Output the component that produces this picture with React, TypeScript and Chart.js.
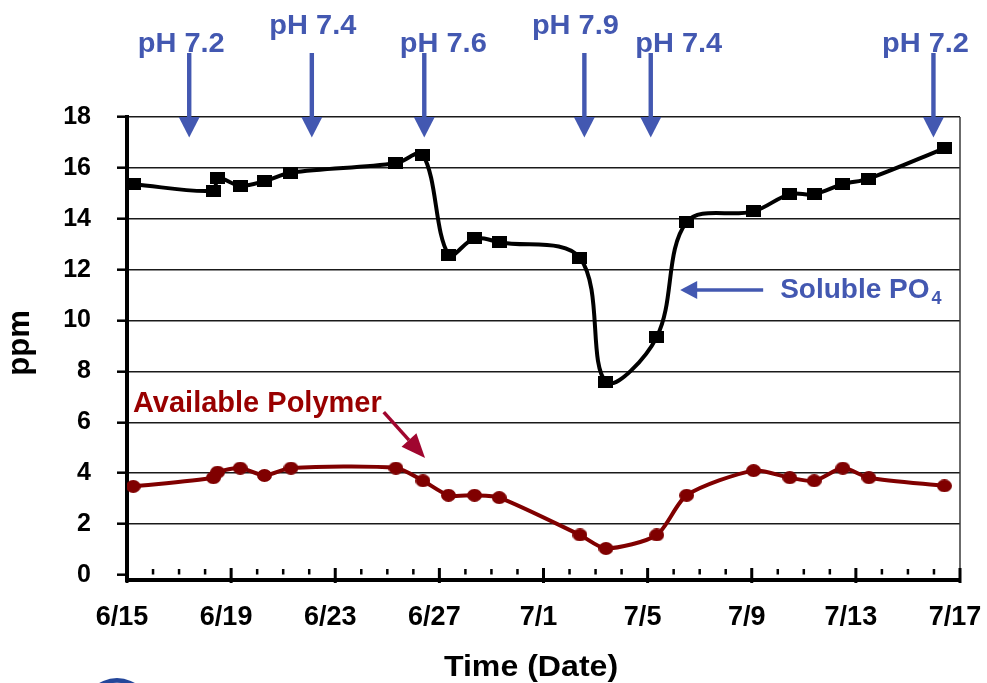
import React, { useEffect, useRef } from "react";
import { Chart, registerables } from "chart.js";

Chart.register(...registerables);

const FONT = '"Liberation Sans", Arial, Helvetica, sans-serif';

// Sampling times, in days after 6/15
const sampleDays = [
  0.24, 3.32, 3.48, 4.35, 5.28, 6.3, 10.33, 11.37, 12.35, 13.35, 14.3,
  17.4, 18.4, 20.35, 21.5, 24.07, 25.46, 26.4, 27.5, 28.5, 31.4,
];

// Soluble PO4, ppm
const solublePO4 = [
  15.36, 15.1, 15.6, 15.3, 15.48, 15.81, 16.18, 16.52, 12.59, 13.23, 13.08,
  12.46, 7.59, 9.35, 13.87, 14.29, 14.97, 14.97, 15.36, 15.58, 16.77,
];

// Available polymer, ppm
const availablePolymer = [
  3.48, 3.82, 4.04, 4.2, 3.91, 4.2, 4.2, 3.7, 3.13, 3.13, 3.04,
  1.57, 1.04, 1.57, 3.13, 4.1, 3.82, 3.7, 4.2, 3.82, 3.5,
];

// Date labels for every fourth day
const dateLabels = ["6/15", "6/19", "6/23", "6/27", "7/1", "7/5", "7/9", "7/13", "7/17"];

// ppm axis ticks
const yTickValues = [0, 2, 4, 6, 8, 10, 12, 14, 16, 18];

// pH set-point changes (days after 6/15)
const phDays = [2.39, 7.1, 11.42, 17.57, 20.12, 30.98];
const phLabels = ["pH 7.2", "pH 7.4", "pH 7.6", "pH 7.9", "pH 7.4", "pH 7.2"];

// Callout anchors in data space
const po4Callout = { day: 21.25, value: 11.2 };
const polymerCallout = { textDay: 0.23, textValue: 6.4, tipDay: 11.45, tipValue: 4.6 };

// Label placement for the pH captions (horizontal shift, raised row or not)
const phLabelLayout = [
  { dx: -8, high: false },
  { dx: 1, high: true },
  { dx: 19, high: false },
  { dx: -9, high: true },
  { dx: 28, high: false },
  { dx: -8, high: false },
];

const PH_BLUE = "#4358b1";
const MAROON = "#800000";
const POLY_TEXT = "#990000";
const POLY_ARROW = "#a0062f";

function stretchText(ctx: CanvasRenderingContext2D, text: string, x: number, y: number, sx: number) {
  ctx.save();
  ctx.translate(x, y);
  ctx.scale(sx, 1);
  ctx.fillText(text, 0, 0);
  ctx.restore();
}

function makeMarker(w: number, h: number, color: string, round: boolean) {
  const c = document.createElement("canvas");
  c.width = w;
  c.height = h;
  const g = c.getContext("2d")!;
  g.fillStyle = color;
  if (round) {
    g.beginPath();
    g.ellipse(w / 2, h / 2, w / 2, h / 2, 0, 0, Math.PI * 2);
    g.fill();
  } else {
    g.fillRect(0, 0, w, h);
  }
  return c;
}

const overlay = {
  id: "overlay",
  afterDraw(chart: any) {
    const { ctx, chartArea: a } = chart;
    const x = chart.scales.x;
    const y = chart.scales.y;
    ctx.save();

    // right frame line
    ctx.strokeStyle = "#3a3a3a";
    ctx.lineWidth = 1.5;
    ctx.beginPath();
    ctx.moveTo(a.right, a.top);
    ctx.lineTo(a.right, a.bottom);
    ctx.stroke();

    // daily tick marks on the time axis
    ctx.fillStyle = "#000";
    for (let d = x.min; d <= x.max; d++) {
      const px = x.getPixelForValue(d);
      if (d % 4 === 0) ctx.fillRect(px - 1.5, a.bottom - 12, 3, 15);
      else ctx.fillRect(px - 1.25, a.bottom - 11, 2.5, 5.5);
    }

    // pH change arrows
    const headBase = y.getPixelForValue(18);
    const shaftTop = 53;
    ctx.fillStyle = PH_BLUE;
    phDays.forEach((d) => {
      const ax = x.getPixelForValue(d);
      ctx.fillRect(ax - 2.2, shaftTop, 4.4, headBase - shaftTop + 1);
      ctx.beginPath();
      ctx.moveTo(ax - 10.5, headBase);
      ctx.lineTo(ax + 10.5, headBase);
      ctx.lineTo(ax, headBase + 20.5);
      ctx.closePath();
      ctx.fill();
    });
    ctx.font = `bold 28px ${FONT}`;
    ctx.textAlign = "center";
    ctx.textBaseline = "alphabetic";
    phLabels.forEach((t, i) => {
      const ax = x.getPixelForValue(phDays[i]);
      const lay = phLabelLayout[i];
      stretchText(ctx, t, ax + lay.dx, lay.high ? 33.5 : 52, 1.035);
    });

    // Soluble PO4 callout
    const tx = x.getPixelForValue(po4Callout.day);
    const ty = y.getPixelForValue(po4Callout.value);
    ctx.strokeStyle = PH_BLUE;
    ctx.lineWidth = 3.5;
    ctx.beginPath();
    ctx.moveTo(tx + 12, ty);
    ctx.lineTo(tx + 83, ty);
    ctx.stroke();
    ctx.beginPath();
    ctx.moveTo(tx, ty);
    ctx.lineTo(tx + 17, ty - 9);
    ctx.lineTo(tx + 17, ty + 9);
    ctx.closePath();
    ctx.fill();
    ctx.textAlign = "left";
    ctx.font = `bold 28px ${FONT}`;
    const main = "Soluble PO";
    ctx.fillText(main, tx + 100, ty + 8);
    const mw = ctx.measureText(main).width;
    ctx.font = `bold 18px ${FONT}`;
    ctx.fillText("4", tx + 100 + mw + 2, ty + 14.5);

    // Available Polymer callout
    const px0 = x.getPixelForValue(polymerCallout.textDay);
    const py0 = y.getPixelForValue(polymerCallout.textValue);
    ctx.font = `bold 29px ${FONT}`;
    ctx.fillStyle = POLY_TEXT;
    const pText = "Available Polymer";
    ctx.fillText(pText, px0, py0);
    const tailX = px0 + ctx.measureText(pText).width + 2;
    const tailY = py0;
    const tipX = x.getPixelForValue(polymerCallout.tipDay);
    const tipY = y.getPixelForValue(polymerCallout.tipValue);
    const ang = Math.atan2(tipY - tailY, tipX - tailX);
    const hl = 24;
    const hw = 10;
    const bx = tipX - hl * Math.cos(ang);
    const by = tipY - hl * Math.sin(ang);
    ctx.strokeStyle = POLY_ARROW;
    ctx.fillStyle = POLY_ARROW;
    ctx.lineWidth = 3.5;
    ctx.beginPath();
    ctx.moveTo(tailX, tailY);
    ctx.lineTo(bx, by);
    ctx.stroke();
    ctx.beginPath();
    ctx.moveTo(tipX, tipY);
    ctx.lineTo(bx + hw * Math.sin(ang), by - hw * Math.cos(ang));
    ctx.lineTo(bx - hw * Math.sin(ang), by + hw * Math.cos(ang));
    ctx.closePath();
    ctx.fill();

    // axis titles
    ctx.fillStyle = "#000";
    ctx.save();
    ctx.translate(28.8, 343);
    ctx.rotate(-Math.PI / 2);
    ctx.font = `bold 31px ${FONT}`;
    ctx.textAlign = "center";
    ctx.fillText("ppm", 0, 0);
    ctx.restore();

    ctx.font = `bold 30px ${FONT}`;
    ctx.textAlign = "center";
    stretchText(ctx, "Time (Date)", 531, 676, 1.07);

    // emblem peeking in at the bottom-left corner
    ctx.fillStyle = "#24479a";
    ctx.beginPath();
    ctx.ellipse(117, 716, 36, 38, 0, 0, Math.PI * 2);
    ctx.fill();
    ctx.strokeStyle = "#fff";
    ctx.lineWidth = 2.5;
    ctx.beginPath();
    ctx.ellipse(117, 716, 30, 32, 0, 0, Math.PI * 2);
    ctx.stroke();

    ctx.restore();
  },
};

export default function App() {
  const ref = useRef<HTMLCanvasElement>(null);

  useEffect(() => {
    const squareMarker = makeMarker(15, 12, "#000", false);
    const roundMarker = makeMarker(15, 13, MAROON, true);

    const chart = new Chart(ref.current!, {
      type: "line",
      data: {
        datasets: [
          {
            label: "Soluble PO4",
            data: sampleDays.map((d, i) => ({ x: d, y: solublePO4[i] })),
            borderColor: "#000",
            backgroundColor: "#000",
            borderWidth: 4,
            tension: 0.35,
            pointStyle: squareMarker as any,
            pointRadius: 7,
          },
          {
            label: "Available Polymer",
            data: sampleDays.map((d, i) => ({ x: d, y: availablePolymer[i] })),
            borderColor: MAROON,
            backgroundColor: MAROON,
            borderWidth: 4,
            tension: 0.25,
            pointStyle: roundMarker as any,
            pointRadius: 7,
          },
        ],
      },
      options: {
        responsive: false,
        animation: false,
        devicePixelRatio: 1,
        layout: { padding: { top: 117, right: 27, bottom: 0, left: 0 } },
        plugins: { legend: { display: false }, tooltip: { enabled: false } },
        events: [],
        scales: {
          x: {
            type: "linear",
            min: 0,
            max: 32,
            bounds: "data",
            afterFit: (s: any) => {
              s.height = 103;
              s.paddingLeft = 0;
              s.paddingRight = 0;
            },
            border: { color: "#000", width: 4 },
            grid: { drawOnChartArea: false, drawTicks: false },
            ticks: {
              stepSize: 4,
              autoSkip: false,
              maxRotation: 0,
              padding: 21,
              labelOffset: -5,
              color: "#000",
              font: { family: FONT, size: 27, weight: "bold" },
              callback: (v: any) => dateLabels[Math.round(Number(v) / 4)] ?? "",
            },
          },
          y: {
            type: "linear",
            min: -0.2,
            max: 18,
            bounds: "data",
            afterBuildTicks: (s: any) => {
              s.ticks = yTickValues.map((v) => ({ value: v }));
            },
            afterFit: (s: any) => {
              s.width = 127;
              s.paddingTop = 0;
              s.paddingBottom = 0;
            },
            border: { color: "#000", width: 4 },
            grid: {
              color: (c: any) => (c.tick && c.tick.value === 0 ? "rgba(0,0,0,0)" : "#1a1a1a"),
              lineWidth: 1.4,
              drawTicks: true,
              tickLength: 10,
              tickWidth: 2.5,
              tickColor: "#000",
            },
            ticks: {
              padding: 26,
              autoSkip: false,
              color: "#000",
              font: { family: FONT, size: 25, weight: "bold" },
              callback: (v: any) => String(v),
            },
          },
        },
      } as any,
      plugins: [overlay],
    });
    return () => chart.destroy();
  }, []);

  return (
    <div style={{ position: "fixed", left: 0, top: 0, width: 987, height: 683, background: "#fff" }}>
      <canvas ref={ref} width={987} height={683} style={{ display: "block" }} />
    </div>
  );
}
